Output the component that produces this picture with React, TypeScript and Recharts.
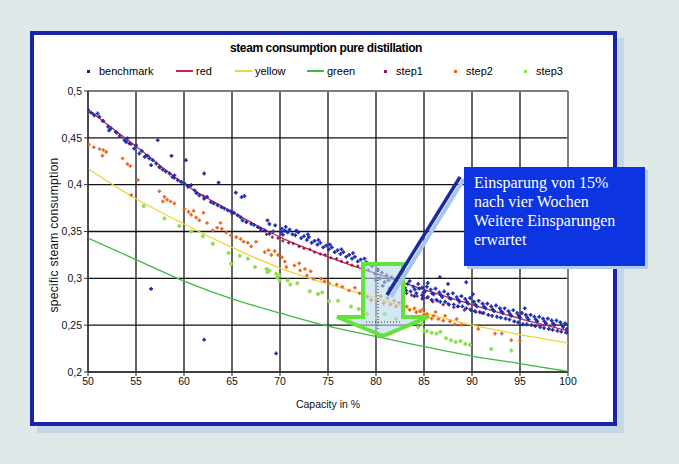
import { CartesianGrid, ComposedChart, Line, ReferenceLine, Scatter, XAxis, YAxis } from "recharts";

// capacity in % and the three reference curves
const capacityTicks = [50, 55, 60, 65, 70, 75, 80, 85, 90, 95, 100];
const consumptionTicks = [0.2, 0.25, 0.3, 0.35, 0.4, 0.45, 0.5];
const redCurve = [0.48, 0.441, 0.401, 0.371, 0.344, 0.323, 0.305, 0.288, 0.272, 0.257, 0.244];
const yellowCurve = [0.417, 0.385, 0.358, 0.333, 0.311, 0.294, 0.279, 0.263, 0.25, 0.24, 0.231];
const greenCurve = [0.343, 0.32, 0.297, 0.278, 0.263, 0.249, 0.238, 0.227, 0.217, 0.209, 0.2005];

const benchmark: [number, number][] = [
  [50.0, 0.48], [50.3, 0.477], [50.66, 0.474], [51.0, 0.476], [51.18, 0.4725], [51.6, 0.468], [52.1, 0.462],
  [52.2, 0.458], [52.4, 0.46], [52.9, 0.4564], [53.3, 0.452], [53.8, 0.4475], [53.96, 0.4457], [54.1, 0.4494],
  [54.3, 0.444], [54.8, 0.4386], [55.0, 0.442], [55.35, 0.4333], [55.6, 0.436], [55.9, 0.4297], [56.2, 0.431],
  [56.4, 0.428], [56.57, 0.4208], [56.74, 0.4261], [57.1, 0.4226], [57.44, 0.419], [57.8, 0.416], [58.1, 0.414],
  [58.5, 0.4119], [58.8, 0.4082], [59.0, 0.41], [59.35, 0.4047], [59.7, 0.403], [60.05, 0.4012], [60.4, 0.398],
  [60.75, 0.3994], [61.1, 0.394], [61.3, 0.391], [61.6, 0.3886], [62.1, 0.3851], [62.4, 0.387], [62.8, 0.3815],
  [63.1, 0.38], [63.5, 0.378], [63.9, 0.376], [64.2, 0.3745], [64.56, 0.3726], [64.9, 0.3715], [65.2, 0.37],
  [65.6, 0.3672], [65.9, 0.365], [66.1, 0.3619], [66.5, 0.36], [67.0, 0.3583], [67.3, 0.357], [67.7, 0.3547],
  [68.0, 0.353], [68.4, 0.3512], [68.9, 0.3476], [69.3, 0.35], [68.9, 0.358],
  [57.26, 0.4475], [58.7, 0.4307], [60.2, 0.4261], [62.1, 0.4119], [63.6, 0.4022], [65.4, 0.3915], [66.3, 0.3879],
  [66.0, 0.3868], [68.7, 0.3619], [69.5, 0.3565], [56.57, 0.2887], [62.1, 0.2345], [69.6, 0.2198],
  [70.1, 0.3494], [70.3, 0.3466], [70.2, 0.353], [70.5, 0.351], [70.8, 0.349], [71.0, 0.352], [71.3, 0.347],
  [71.6, 0.346], [71.9, 0.349], [72.2, 0.343], [72.5, 0.345], [72.8, 0.341], [73.0, 0.344], [73.3, 0.338],
  [73.6, 0.34], [73.9, 0.336], [74.2, 0.338], [74.5, 0.333], [74.8, 0.335], [75.1, 0.331], [75.4, 0.333],
  [75.7, 0.328], [76.0, 0.33], [76.3, 0.326], [76.6, 0.328], [76.9, 0.323], [77.2, 0.325], [77.5, 0.321],
  [77.8, 0.323], [78.1, 0.318], [78.4, 0.32], [78.7, 0.315], [79.0, 0.317],
  [70.6, 0.355], [71.7, 0.351], [72.9, 0.347], [74.0, 0.341], [75.2, 0.336], [76.4, 0.331], [77.6, 0.327],
  [78.8, 0.321],
  [79.6, 0.313], [79.9, 0.305], [80.2, 0.309], [80.4, 0.3], [80.6, 0.306], [80.9, 0.296], [81.1, 0.303],
  [81.3, 0.298], [81.6, 0.301], [81.8, 0.293], [82.1, 0.297], [80.0, 0.298], [80.7, 0.292], [81.4, 0.289],
  [82.4, 0.294],
  [82.7, 0.296], [83.0, 0.29], [83.3, 0.294], [83.6, 0.286], [83.9, 0.291], [84.2, 0.284], [84.5, 0.289],
  [84.8, 0.282], [84.8, 0.29], [85.1, 0.286], [85.4, 0.28], [85.7, 0.288], [86.0, 0.283], [86.3, 0.277],
  [86.6, 0.285], [86.9, 0.28], [87.2, 0.275], [87.5, 0.283], [87.8, 0.278], [88.1, 0.272], [88.4, 0.28],
  [88.7, 0.275], [89.0, 0.27], [89.3, 0.278], [89.6, 0.273], [89.9, 0.266], [90.2, 0.275], [90.5, 0.27],
  [90.8, 0.264], [91.1, 0.273], [91.4, 0.268], [91.7, 0.261], [92.0, 0.27], [92.3, 0.265], [92.6, 0.259],
  [92.9, 0.268], [93.2, 0.263], [93.5, 0.257], [93.8, 0.265], [94.1, 0.26], [94.4, 0.254], [94.7, 0.263],
  [95.0, 0.258], [95.3, 0.251], [95.6, 0.261], [95.9, 0.256], [96.2, 0.25], [96.5, 0.259], [96.8, 0.254],
  [97.1, 0.248], [97.4, 0.257], [97.7, 0.252], [98.0, 0.246], [98.3, 0.255], [98.6, 0.25], [98.9, 0.244],
  [99.2, 0.253], [99.5, 0.248], [99.8, 0.242], [100.0, 0.25], [99.9, 0.246],
  [83.15, 0.287], [84.05, 0.288], [84.95, 0.285], [85.85, 0.284], [86.75, 0.282], [87.65, 0.279], [88.55, 0.277],
  [89.45, 0.275], [90.35, 0.272], [91.25, 0.27], [92.15, 0.267], [93.05, 0.265], [93.95, 0.262], [94.85, 0.26],
  [95.75, 0.258], [96.65, 0.256], [97.55, 0.254], [98.45, 0.252], [99.35, 0.25],
  [83.5, 0.297], [84.4, 0.294], [85.3, 0.291], [86.2, 0.289], [87.1, 0.286], [88.0, 0.284], [88.9, 0.281],
  [89.8, 0.279], [90.7, 0.276], [91.6, 0.273], [92.5, 0.271], [93.4, 0.268], [94.3, 0.266], [95.2, 0.263],
  [96.1, 0.261], [97.0, 0.259], [97.9, 0.257], [98.8, 0.255], [99.7, 0.252],
  [84.0, 0.281], [84.9, 0.279], [85.8, 0.277], [86.7, 0.275], [87.6, 0.272], [88.5, 0.27], [89.4, 0.268],
  [90.3, 0.265], [91.2, 0.263], [92.1, 0.26], [93.0, 0.258], [93.9, 0.256], [94.8, 0.253], [95.7, 0.251],
  [96.6, 0.249], [97.5, 0.247], [98.4, 0.245], [99.3, 0.243], [100.0, 0.242],
  [86.65, 0.3012], [87.5, 0.294], [89.4, 0.2958], [85.4, 0.295], [90.1, 0.283], [95.5, 0.268],
];

const step1: [number, number][] = [
  [50.5, 0.476], [51.5, 0.468], [53.0, 0.455], [54.5, 0.443], [56.0, 0.431], [57.5, 0.418], [59.0, 0.407],
  [60.5, 0.398], [62.0, 0.388], [63.5, 0.378], [65.0, 0.369], [66.5, 0.36], [68.0, 0.351], [68.6, 0.347],
  [69.2, 0.344], [69.8, 0.343], [70.3, 0.34], [70.9, 0.338], [71.4, 0.337], [72.0, 0.334], [72.5, 0.332],
  [73.1, 0.331], [73.6, 0.328], [74.2, 0.326], [74.7, 0.325], [75.3, 0.322], [75.9, 0.321], [76.4, 0.318],
  [77.0, 0.317], [77.5, 0.314], [78.1, 0.313], [78.6, 0.311], [79.2, 0.309], [83.2, 0.284], [83.7, 0.282],
  [84.3, 0.281], [84.8, 0.278], [85.3, 0.279], [85.9, 0.275], [86.4, 0.276], [87.0, 0.272], [87.5, 0.273],
  [88.1, 0.269], [88.6, 0.27], [89.2, 0.266], [89.8, 0.267], [90.4, 0.264], [91.0, 0.263],
];

const step2: [number, number][] = [
  [50.1, 0.443], [50.6, 0.44], [51.2, 0.438], [51.6, 0.437], [51.5, 0.431], [51.9, 0.435], [53.6, 0.428],
  [54.1, 0.422], [54.4, 0.42], [55.2, 0.405], [54.5, 0.389],
  [57.44, 0.393], [57.96, 0.387], [58.24, 0.384], [58.6, 0.382], [59.0, 0.38], [57.8, 0.382],
  [60.05, 0.374], [60.47, 0.371], [60.75, 0.368], [61.0, 0.372], [61.27, 0.365], [61.6, 0.362], [62.03, 0.37],
  [62.4, 0.359], [63.0, 0.351], [63.46, 0.354], [63.8, 0.359], [63.94, 0.353], [64.4, 0.349], [64.9, 0.346],
  [65.44, 0.344], [65.9, 0.342], [66.2, 0.339], [66.65, 0.338], [67.0, 0.334], [67.5, 0.339],
  [68.4, 0.328], [68.8, 0.33], [69.1, 0.325], [69.44, 0.329], [69.8, 0.325], [70.2, 0.3225],
  [70.5, 0.318], [70.66, 0.312], [71.5, 0.3137], [72.0, 0.316], [72.1, 0.3083], [72.6, 0.31], [73.2, 0.3076],
  [72.8, 0.303], [73.5, 0.2995], [74.3, 0.2995], [74.65, 0.297], [75.1, 0.2947], [75.9, 0.2934], [77.8, 0.29],
  [76.5, 0.291], [77.2, 0.287], [78.3, 0.284],
  [79.07, 0.28], [79.5, 0.277], [80.1, 0.2755], [80.8, 0.2733], [81.5, 0.272], [82.1, 0.27], [82.8, 0.2684],
  [83.5, 0.2663], [84.2, 0.2637], [85.0, 0.261], [85.4, 0.259], [80.5, 0.281], [81.2, 0.279], [81.9, 0.276],
  [82.4, 0.274],
  [83.2, 0.27], [84.0, 0.268], [84.6, 0.265], [85.3, 0.262], [86.0, 0.26], [86.5, 0.2566], [87.0, 0.2548],
  [87.7, 0.254], [88.2, 0.251], [88.9, 0.2505], [87.2, 0.26], [88.4, 0.2566], [86.2, 0.264], [85.8, 0.257],
  [84.9, 0.267],
  [90.65, 0.246], [92.4, 0.241], [93.1, 0.241], [94.1, 0.234], [95.0, 0.233],
];

const step3: [number, number][] = [
  [55.8, 0.377], [57.96, 0.364], [59.5, 0.356], [60.75, 0.35], [61.96, 0.345], [63.0, 0.337], [64.64, 0.327],
  [64.9, 0.3155], [65.8, 0.324], [66.65, 0.321], [67.4, 0.312], [68.6, 0.31], [68.7, 0.3065], [69.7, 0.301],
  [69.96, 0.303], [68.9, 0.3083], [69.6, 0.305], [69.96, 0.2976], [70.8, 0.2976], [71.07, 0.2934],
  [71.8, 0.2947], [73.1, 0.2862], [73.96, 0.2834], [74.4, 0.285], [75.1, 0.2755], [76.04, 0.2762],
  [77.4, 0.2698], [78.2, 0.2673], [79.07, 0.262], [80.1, 0.2583], [80.9, 0.262], [82.1, 0.2566],
  [83.5, 0.2505], [84.4, 0.2477], [85.3, 0.2434], [84.6, 0.258], [84.1, 0.253], [84.8, 0.251], [85.0, 0.244],
  [85.8, 0.242], [86.3, 0.241], [86.7, 0.243], [87.3, 0.236], [87.8, 0.234], [88.3, 0.232], [88.8, 0.233],
  [89.3, 0.23], [89.8, 0.229], [92.0, 0.2245], [94.1, 0.223],
];

const toPoints = (pts: [number, number][]) => pts.map(([x, y]) => ({ x, y }));
const toCurve = (vals: number[]) => capacityTicks.map((x, i) => ({ x, y: vals[i] }));

const FONT = "Arial, 'Liberation Sans', sans-serif";

function marker(color: string, s: number, w: number) {
  return (p: any) => (
    <path
      d={`M${p.cx - s},${p.cy}h${2 * s}M${p.cx},${p.cy - s}v${2 * s}`}
      stroke={color}
      strokeWidth={w}
      fill="none"
    />
  );
}

const legendItems = [
  { name: "benchmark", color: "#1a1f8a", kind: "dot", left: 86 },
  { name: "red", color: "#d01e4e", kind: "line", left: 176 },
  { name: "yellow", color: "#f2d23c", kind: "line", left: 235 },
  { name: "green", color: "#42b842", kind: "line", left: 307 },
  { name: "step1", color: "#8a1a50", kind: "dot", left: 383 },
  { name: "step2", color: "#e8641e", kind: "dot", left: 453 },
  { name: "step3", color: "#8ee04a", kind: "dot", left: 523 },
];

export default function App() {
  return (
    <div style={{ position: "absolute", left: 0, top: 0, width: 679, height: 464, background: "#dfe9ea", overflow: "hidden", fontFamily: FONT }}>
      <div
        style={{
          position: "absolute",
          left: 30,
          top: 31,
          width: 587,
          height: 395,
          boxSizing: "border-box",
          border: "4px solid #1a24a8",
          background: "#fff",
          boxShadow: "7px 7px 0 #c4d7e7",
        }}
      />
      <div style={{ position: "absolute", left: 326, top: 41, transform: "translateX(-50%)", fontSize: 12, fontWeight: "bold", whiteSpace: "nowrap", letterSpacing: -0.4 }}>
        steam consumption pure distillation
      </div>
      {legendItems.map((it) => (
        <div key={it.name} style={{ position: "absolute", left: it.left, top: 64, height: 14, display: "flex", alignItems: "center", fontSize: 11, whiteSpace: "nowrap" }}>
          {it.kind === "line" ? (
            <span style={{ display: "inline-block", width: 17, height: 2, background: it.color, marginRight: 3 }} />
          ) : (
            <span style={{ display: "inline-block", width: 3, height: 3, background: it.color, margin: "0 9px 0 1px" }} />
          )}
          {it.name}
        </div>
      ))}
      <div
        style={{
          position: "absolute",
          left: 54,
          top: 235,
          transform: "translate(-50%, -50%) rotate(-90deg)",
          fontSize: 12,
          letterSpacing: 0.3,
          whiteSpace: "nowrap",
          color: "#111",
        }}
      >
        specific steam consumption
      </div>
      <div style={{ position: "absolute", left: 0, top: 0 }}>
        <ComposedChart width={679} height={464} margin={{ top: 91, right: 111, bottom: 62, left: 48 }}>
          <CartesianGrid stroke="#111" strokeWidth={1.3} />
          <XAxis
            type="number"
            dataKey="x"
            domain={[50, 100]}
            ticks={capacityTicks}
            allowDataOverflow
            height={30}
            tickSize={4}
            stroke="#333"
            tick={{ fontSize: 10.5, fill: "#111", fontFamily: FONT }}
            label={{ value: "Capacity in %", position: "insideBottom", offset: -6, fontSize: 10.5, fill: "#111", fontFamily: FONT }}
          />
          <YAxis
            type="number"
            dataKey="y"
            domain={[0.2, 0.5]}
            ticks={consumptionTicks}
            allowDataOverflow
            width={40}
            tickSize={4}
            stroke="#333"
            tick={{ fontSize: 10.5, fill: "#111", fontFamily: FONT }}
            tickFormatter={(v: number) => String(v).replace(".", ",")}
          />
          <ReferenceLine y={0.5} stroke="#8c8c8c" strokeWidth={1.3} />
          <ReferenceLine x={100} stroke="#8c8c8c" strokeWidth={1.3} />
          <Line data={toCurve(greenCurve)} dataKey="y" type="monotone" stroke="#42b842" strokeWidth={1.3} dot={false} isAnimationActive={false} />
          <Line data={toCurve(yellowCurve)} dataKey="y" type="monotone" stroke="#f2d23c" strokeWidth={1.3} dot={false} isAnimationActive={false} />
          <Scatter data={toPoints(step3)} fill="#8ee04a" shape={marker("#8ee04a", 2, 2)} isAnimationActive={false} />
          <Scatter data={toPoints(step2)} fill="#e8641e" shape={marker("#e8641e", 1.8, 1.5)} isAnimationActive={false} />
          <Line data={toCurve(redCurve)} dataKey="y" type="monotone" stroke="#d01e4e" strokeWidth={1.3} dot={false} isAnimationActive={false} />
          <Scatter data={toPoints(step1)} fill="#8a1a50" shape={marker("#8a1a50", 1.6, 1.3)} isAnimationActive={false} />
          <Scatter data={toPoints(benchmark)} fill="#1e2cb0" shape={marker("#1e2cb0", 1.9, 1.6)} isAnimationActive={false} />
        </ComposedChart>
      </div>
      <svg width={679} height={464} style={{ position: "absolute", left: 0, top: 0, pointerEvents: "none" }}>
        <polygon
          points="363,264 403,264 403,317 428,317 383,336 337,317 363,317"
          fill="rgba(185,215,232,0.6)"
          stroke="#62e23a"
          strokeWidth={4}
          strokeLinejoin="miter"
        />
        <line x1={378} y1={268} x2={378} y2={330} stroke="#333" strokeWidth={1} strokeDasharray="1 2" />
        <line x1={366} y1={322} x2={400} y2={322} stroke="#333" strokeWidth={1} strokeDasharray="1 2" />
        <line x1={464} y1={179} x2={391} y2={297} stroke="#a9c6ea" strokeWidth={4} />
        <line x1={460} y1={177} x2={387} y2={295} stroke="#1c2aa0" strokeWidth={3.5} />
      </svg>
      <div
        style={{
          position: "absolute",
          left: 464,
          top: 167,
          width: 181,
          height: 99,
          boxSizing: "border-box",
          background: "#0c34e0",
          boxShadow: "3px 3px 0 #b3cbec",
          color: "#fff",
          fontFamily: "'Liberation Serif', 'Times New Roman', serif",
          fontSize: 16,
          lineHeight: "19px",
          padding: "6px 0 0 10px",
          whiteSpace: "nowrap",
        }}
      >
        Einsparung von 15%
        <br />
        nach vier Wochen
        <br />
        Weitere Einsparungen
        <br />
        erwartet
      </div>
    </div>
  );
}
